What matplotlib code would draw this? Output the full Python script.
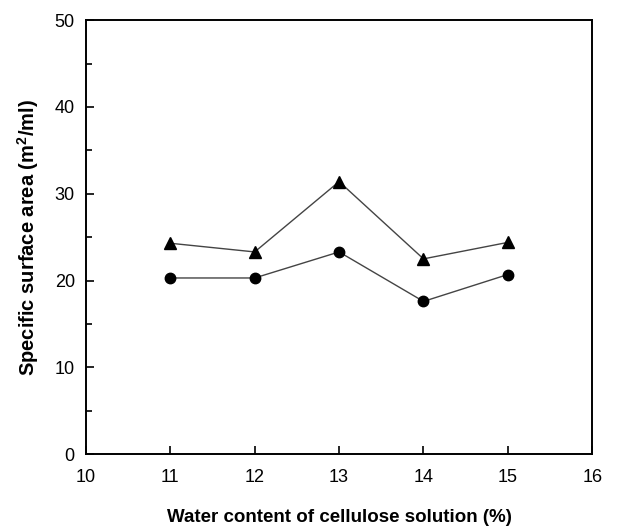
import matplotlib
matplotlib.use("Agg")
import matplotlib.pyplot as plt
from matplotlib.ticker import MultipleLocator

plt.rcParams['font.family'] = ['Liberation Sans', 'DejaVu Sans']
plt.rcParams['mathtext.fontset'] = 'custom'
plt.rcParams['mathtext.rm'] = 'Liberation Sans'
plt.rcParams['mathtext.bf'] = 'Liberation Sans:bold'

water = [11, 12, 13, 14, 15]
triangle_vals = [24.3, 23.3, 31.4, 22.5, 24.4]
circle_vals = [20.3, 20.3, 23.3, 17.6, 20.7]
x_ticks = [10, 11, 12, 13, 14, 15, 16]
y_ticks = [0, 10, 20, 30, 40, 50]

fig = plt.figure(figsize=(6.41, 5.30), dpi=100)
ax = fig.add_axes([0.134, 0.143, 0.790, 0.819])

ax.plot(water, triangle_vals, color='#444444', lw=1.0, marker='^', ms=8.5,
        mfc='black', mec='black')
ax.plot(water, circle_vals, color='#444444', lw=1.0, marker='o', ms=7.5,
        mfc='black', mec='black')

ax.set_xlim(10, 16)
ax.set_ylim(0, 50)
ax.set_xticks(x_ticks)
ax.set_yticks(y_ticks)
ax.yaxis.set_minor_locator(MultipleLocator(5))
ax.tick_params(which='both', direction='in', labelsize=13, width=1.2)
ax.tick_params(which='major', length=6)
ax.tick_params(axis='x', which='major', pad=11)
ax.tick_params(axis='y', which='major', pad=8)
ax.tick_params(which='minor', length=4)
for s in ax.spines.values():
    s.set_linewidth(1.4)

ax.set_xlabel('Water content of cellulose solution (%)', fontsize=13.5,
              fontweight='bold', labelpad=16)
ax.set_ylabel(r'Specific surface area (m$^\mathbf{2}$/ml)', fontsize=14.5,
              fontweight='bold', labelpad=10)

fig.savefig('out.png', dpi=100)
